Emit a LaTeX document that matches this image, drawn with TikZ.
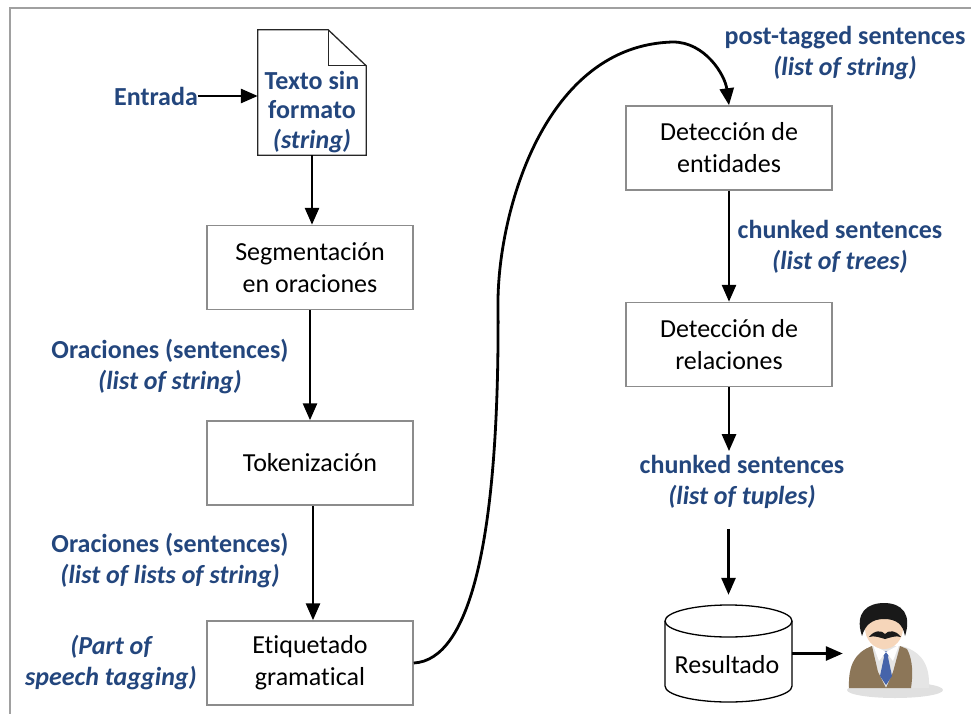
\documentclass[tikz,border=0pt]{standalone}
\usepackage{fontspec}
\setmainfont{Carlito}[Ligatures=NoCommon]
\usetikzlibrary{arrows.meta}

\definecolor{lblue}{RGB}{35,70,125}
\definecolor{boxgray}{RGB}{140,140,140}
\definecolor{framegray}{RGB}{160,160,160}
\definecolor{skin}{RGB}{246,214,186}
\definecolor{vest}{RGB}{140,118,88}
\definecolor{tieblue}{RGB}{70,100,170}

\newcommand\bodysize{\fontsize{26}{32}\selectfont}
\newcommand\labelsize{\fontsize{26}{31}\selectfont}
\newcommand\docsize{\fontsize{26}{29.5}\selectfont}

\begin{document}
\begin{tikzpicture}[x=1pt,y=-1pt,
  proc/.style={draw=boxgray, line width=1.5pt, minimum width=206pt,
    minimum height=84pt, align=center, inner sep=0pt, font=\bodysize},
  lbl/.style={text=lblue, font=\labelsize\bfseries, align=center, inner sep=0pt},
  flow/.style={line width=2.8pt, -{Triangle[length=17pt,width=14pt]}},
]
\useasboundingbox (0,0) rectangle (971,714);

% outer frame (only the top and left edges fall inside the page)
\draw[framegray, line width=1.5pt] (10,720) -- (10,8) -- (980,8);

% ---- left column ----
\node[minimum width=108pt, minimum height=125pt, inner sep=0pt] (doc) at (312,92.5) {};
\draw[line width=1.3pt, black!85]
  (doc.south west) -- (doc.north west) -- ([xshift=-38pt]doc.north east)
  -- ([yshift=-36pt]doc.north east) -- (doc.south east) -- cycle;
\draw[line width=1.3pt, black!85]
  ([xshift=-38pt]doc.north east) -- ([xshift=-38pt,yshift=-36pt]doc.north east)
  -- ([yshift=-36pt]doc.north east);
\node[lbl, font=\docsize\bfseries] (doctext) at (312,112)
  {Texto sin\\formato\\\textit{(string)}};

\node[lbl] (entrada) at (156,96) {Entrada};

\node[proc] (seg) at (310,267.5) {Segmentación\\en oraciones};
\node[proc] (tok) at (310,463) {Tokenización};
\node[proc] (etq) at (310,663) {Etiquetado\\gramatical};

\node[lbl] (l1) at (170,367) {Oraciones (sentences)\\\textit{(list of string)}};
\node[lbl] (l2) at (170,561) {Oraciones (sentences)\\\textit{(list of lists of string)}};
\node[lbl, font=\labelsize\bfseries\itshape] (l3) at (111,663) {(Part of\\speech tagging)};

% ---- right column ----
\node[proc] (ent) at (729,148) {Detección de\\entidades};
\node[proc] (rel) at (729,344.5) {Detección de\\relaciones};

\node[lbl] (l4) at (845,53) {post-tagged sentences\\\textit{(list of string)}};
\node[lbl] (l5) at (840,247) {chunked sentences\\\textit{(list of trees)}};
\node[lbl] (l6) at (742,482) {chunked sentences\\\textit{(list of tuples)}};

% database cylinder
\node[minimum width=127pt, minimum height=97pt, inner sep=0pt]
  (res) at (728.5,653.5) {};
\draw[line width=1.3pt, fill=white]
  (665,621) -- (665,686) arc[start angle=180, end angle=360, x radius=63.5, y radius=-16]
  -- (792,621) arc[start angle=0, end angle=180, x radius=63.5, y radius=-16] -- cycle;
\draw[line width=1.3pt]
  (665,621) arc[start angle=180, end angle=360, x radius=63.5, y radius=-16];
\node[font=\bodysize, inner sep=0pt] (restext) at (727,665) {Resultado};

% user figure
\node[minimum width=80pt, minimum height=90pt, inner sep=0pt] (user) at (888,648) {};
\begin{scope}
  \fill[black!12] (895,690) ellipse[x radius=48, y radius=8];
  % shirt
  \fill[white!90!black] (849,688) .. controls (848,664) and (856,652) .. (872,646)
    -- (902,646) .. controls (922,652) and (930,665) .. (929,688) -- cycle;
  % vest
  \fill[vest] (849,688) .. controls (848,664) and (856,652) .. (872,646)
    -- (878,672) -- (886,688) -- cycle;
  \fill[vest] (907,649) .. controls (913,660) and (913,675) .. (911,688)
    -- (886,688) -- (893,672) -- (900,646) -- cycle;
  % tie
  \fill[tieblue] (882,651) -- (890,651) -- (888,657) -- (892,676) -- (886,685)
    -- (880,676) -- (884,657) -- cycle;
  % collar
  \fill[white] (873,645) -- (886,652) -- (879,661) -- cycle;
  \fill[white] (899,645) -- (886,652) -- (893,661) -- cycle;
  % face
  \fill[skin] (884,628) ellipse[x radius=19, y radius=21];
  % hair
  \fill[black!90] (862,636) .. controls (854,612) and (868,603) .. (884,603)
    .. controls (902,603) and (912,614) .. (905,636)
    .. controls (903,624) and (896,619) .. (884,619)
    .. controls (872,619) and (865,625) .. (862,636) -- cycle;
  % moustache
  \fill[black!90] (869,637) .. controls (874,630) and (882,630) .. (885,634)
    .. controls (888,630) and (896,630) .. (901,637)
    .. controls (896,635) and (889,638) .. (885,639)
    .. controls (881,638) and (874,635) .. (869,637) -- cycle;
\end{scope}

% ---- connectors ----
\draw[flow] (entrada.east) -- (entrada.east -| doc.west);
\draw[flow] (doc.south) -- (doc.south |- seg.north);
\draw[flow] (seg.south) -- (tok.north);
\draw[flow] ([xshift=3pt]tok.south) -- ([xshift=3pt]etq.north);
\draw[flow] (etq.east)
  .. controls (470,660) and (500,540) .. (498,300)
  .. controls (499,210) and (545,45) .. (673,42)
  .. controls (705,42) and (725,75) .. (ent.north);
\draw[flow] (ent.south) -- (rel.north);
\draw[flow] (rel.south) -- ([yshift=4pt]rel.south |- l6.north);
\draw[flow] (res.north |- l6.south) ++(0,20) -- ([yshift=10pt]res.north);
\draw[flow] (res.east) -- ([xshift=-5pt]res.east -| user.west);
\end{tikzpicture}
\end{document}
